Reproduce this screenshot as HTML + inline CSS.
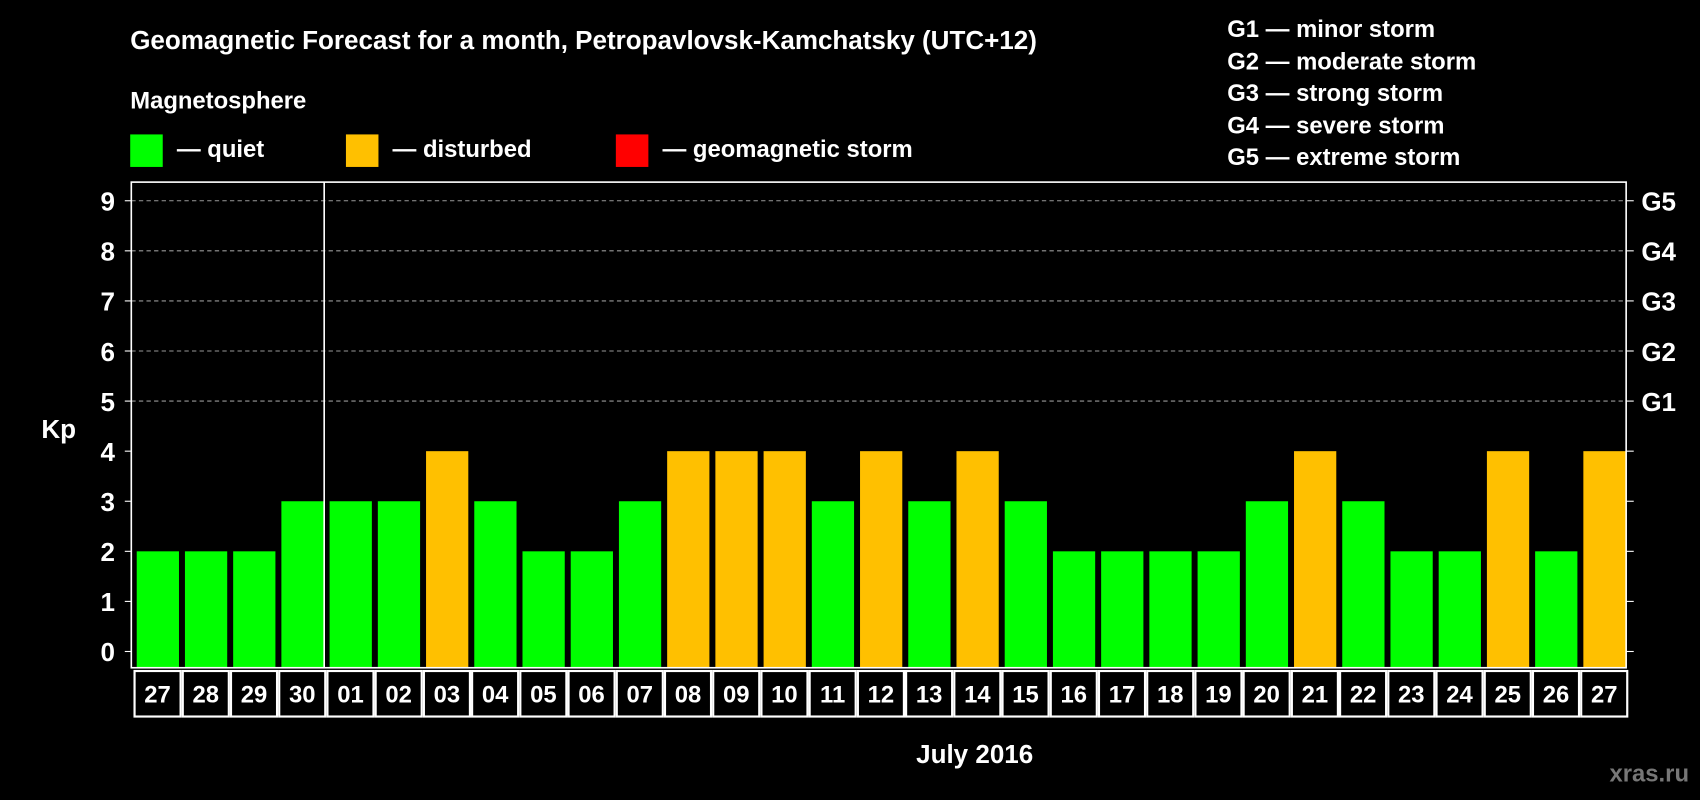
<!DOCTYPE html>
<html><head><meta charset="utf-8"><style>
html,body{margin:0;padding:0;background:#000;}
svg{display:block;font-family:"Liberation Sans",Arial,sans-serif;font-weight:bold;}
</style></head><body>
<svg id="chart" width="1700" height="800" viewBox="0 0 1568 738" xmlns="http://www.w3.org/2000/svg">
<rect width="1568" height="738" fill="#000"/>
<text x="120" y="45" fill="#fff" font-size="24">Geomagnetic Forecast for a month, Petropavlovsk-Kamchatsky (UTC+12)</text>
<text x="120" y="100" fill="#fff" font-size="22">Magnetosphere</text>
<g><rect x="120" y="124" width="30" height="30" fill="#00ff00"/><text x="163" y="145" fill="#fff" font-size="22">— quiet</text></g>
<g><rect x="319" y="124" width="30" height="30" fill="#ffc000"/><text x="362" y="145" fill="#fff" font-size="22">— disturbed</text></g>
<g><rect x="568" y="124" width="30" height="30" fill="#ff0000"/><text x="611" y="145" fill="#fff" font-size="22">— geomagnetic storm</text></g>
<g fill="#fff" font-size="22">
<text x="1132" y="34">G1 — minor storm</text>
<text x="1132" y="64">G2 — moderate storm</text>
<text x="1132" y="93">G3 — strong storm</text>
<text x="1132" y="123">G4 — severe storm</text>
<text x="1132" y="152">G5 — extreme storm</text>
</g>
<text x="38" y="404" fill="#fff" font-size="24">Kp</text>
<text x="899" y="704" fill="#fff" font-size="24" text-anchor="middle">July 2016</text>
<text x="1558" y="721" fill="#777" font-size="22" text-anchor="end">xras.ru</text>
<g id="grid"></g><g id="bars"></g><g id="axes"></g><g id="dates"></g>
</svg>
<script>
const dates=["27","28","29","30","01","02","03","04","05","06","07","08","09","10","11","12","13","14","15","16","17","18","19","20","21","22","23","24","25","26","27"];
const kpValues=[2,2,2,3,3,3,4,3,2,2,3,4,4,4,3,4,3,4,3,2,2,2,2,3,4,3,2,2,4,2,4];
const yTicks=[0,1,2,3,4,5,6,7,8,9];
const gLabels=["","","","","","G1","G2","G3","G4","G5"];
const NS="http://www.w3.org/2000/svg";
const L=121,R=1500,T=168,B=616;
const y=v=>601-v*46.2;
const step=(R-L)/dates.length;
const x=i=>L+i*step;
function mk(t,a,p){const e=document.createElementNS(NS,t);for(const k in a)e.setAttribute(k,a[k]);document.getElementById(p).appendChild(e);return e;}
yTicks.forEach((v,i)=>{
  if(v>=5){const g=mk('line',{x1:L,x2:R,y1:y(v),y2:y(v),stroke:'#999','stroke-dasharray':'4,3','stroke-width':1},'grid');
  
  }
  const t=mk('text',{x:106,y:y(v)+9,fill:'#fff','font-size':24,'text-anchor':'end'},'axes');t.textContent=v;
  
  
  mk('line',{x1:R,x2:R+7,y1:y(v),y2:y(v),stroke:'#fff'},'axes');
  mk('line',{x1:L-6,x2:L,y1:y(v),y2:y(v),stroke:'#fff'},'axes');
  if(gLabels[i]){const g=mk('text',{x:1514,y:y(v)+9,fill:'#fff','font-size':24},'axes');g.textContent=gLabels[i];
  
  }
});
kpValues.forEach((v,i)=>{
  const b=mk('rect',{x:x(i)+5,y:y(v),width:step-5.5,height:B-y(v),fill:v>=4?'#ffc000':'#00ff00'},'bars');
  
  
  mk('rect',{x:x(i)+3,y:619,width:step-2,height:42,fill:'none',stroke:'#fff','stroke-width':2},'dates');
  const t=mk('text',{x:x(i)+step/2+2,y:648,fill:'#fff','font-size':22,'text-anchor':'middle'},'dates');t.textContent=dates[i];
  
  
});
const f=mk('rect',{x:L,y:T,width:R-L,height:B-T,fill:'none',stroke:'#fff','stroke-width':1.5},'axes');


const sep=mk('line',{x1:x(4),x2:x(4),y1:T,y2:B,stroke:'#fff','stroke-width':1.5},'axes');


</script>
</body></html>
